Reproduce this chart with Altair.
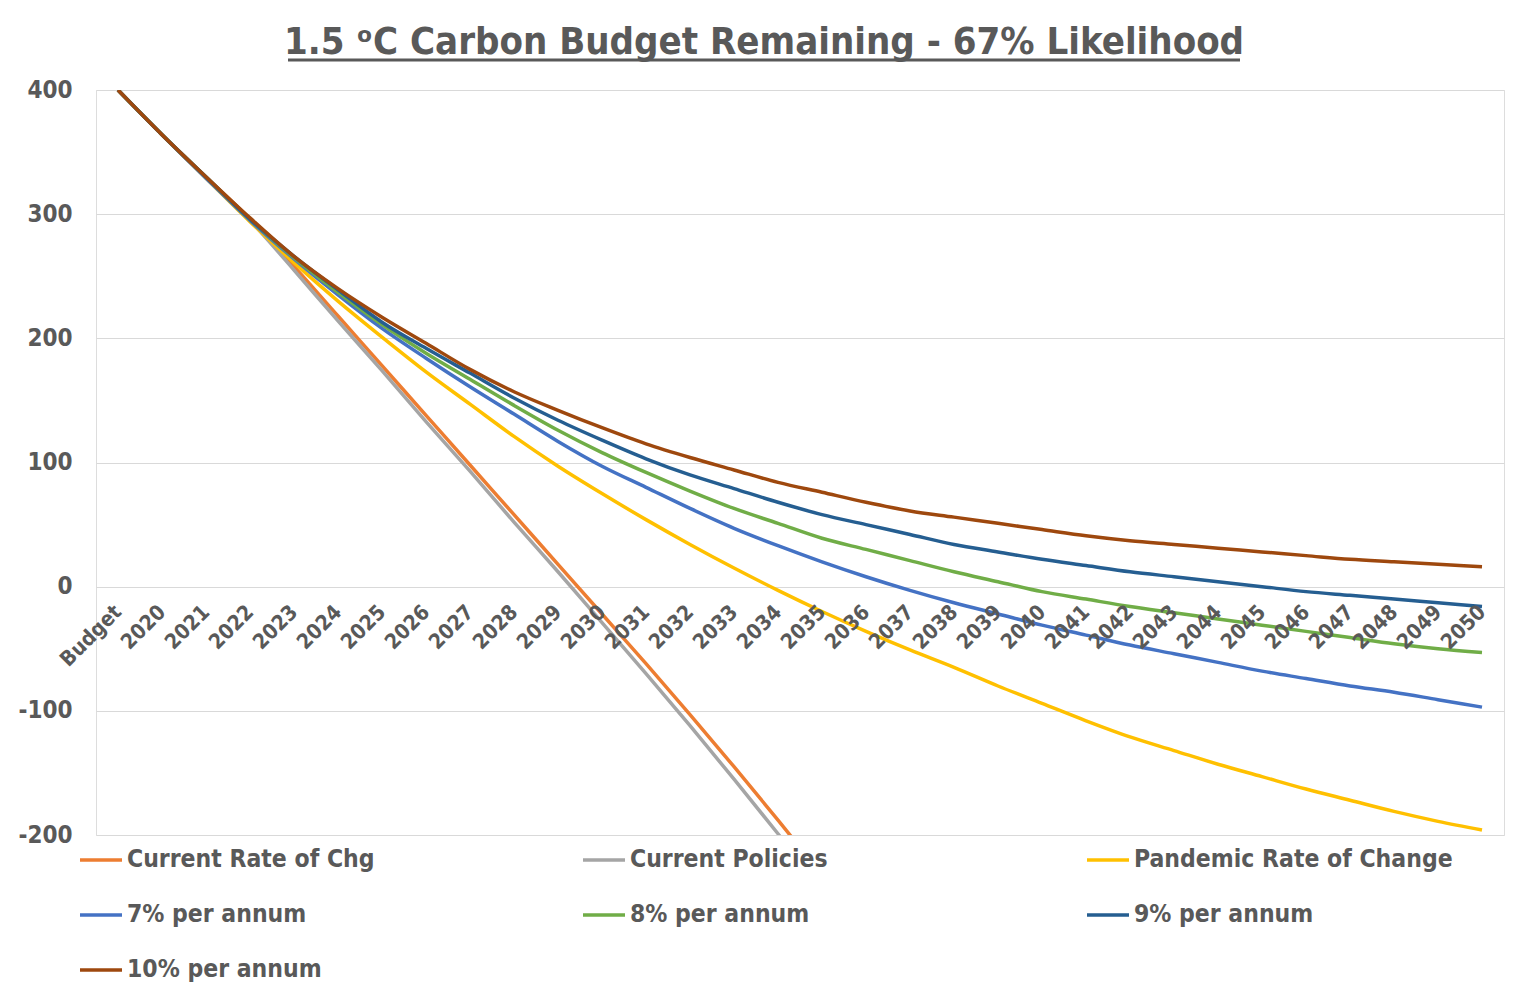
import altair as alt
import pandas as pd

categories = ["Budget", "2020", "2021", "2022", "2023", "2024", "2025", "2026", "2027",
              "2028", "2029", "2030", "2031", "2032", "2033", "2034", "2035", "2036",
              "2037", "2038", "2039", "2040", "2041", "2042", "2043", "2044", "2045",
              "2046", "2047", "2048", "2049", "2050"]

series_names = ["Current Rate of Chg", "Current Policies", "Pandemic Rate of Change",
                "7% per annum", "8% per annum", "9% per annum", "10% per annum"]
series_colors = ["#ED7D31", "#A5A5A5", "#FFC000", "#4472C4", "#70AD47", "#255E91", "#9E480E"]

# legend columns as laid out in the reference
legend_columns = [["Current Rate of Chg", "7% per annum", "10% per annum"],
                  ["Current Policies", "8% per annum"],
                  ["Pandemic Rate of Change", "9% per annum"]]

title_text = ["1.5 ᵒC Carbon Budget Remaining - 67% Likelihood"]

current_rate = [400, 364, 330, 296, 258, 218, 178, 138, 98, 58, 18, -22, -62, -103, -145,
                -188, -232]
current_policies = [400, 364, 330, 295, 255, 214, 174, 133, 93, 52, 12, -29, -70, -112,
                    -155, -199, -244]
pandemic = [400, 364, 329, 294, 261, 230, 201, 173, 147, 121, 97, 75, 54, 34, 15, -3, -20,
            -36, -51, -65, -80, -94, -108, -121, -132, -143, -153, -163, -172, -181, -189, -196]
pa7 = [400, 364, 329, 295, 264, 235, 208, 184, 161, 139, 117, 97, 80, 63, 47, 33, 20, 8,
       -3, -13, -22, -31, -39, -47, -54, -61, -68, -74, -80, -85, -91, -97]
pa8 = [400, 364, 330, 296, 265, 237, 211, 188, 167, 146, 126, 108, 92, 77, 63, 51, 39, 30,
       21, 12, 4, -4, -10, -16, -21, -26, -31, -36, -41, -46, -50, -53]
pa9 = [400, 364, 330, 296, 266, 239, 213, 192, 172, 152, 134, 118, 103, 90, 79, 68, 58, 50,
       42, 34, 28, 22, 17, 12, 8, 4, 0, -4, -7, -10, -13, -16]
pa10 = [400, 364, 330, 297, 266, 240, 217, 196, 175, 157, 142, 128, 115, 104, 94, 84, 76,
        68, 61, 56, 51, 46, 41, 37, 34, 31, 28, 25, 22, 20, 18, 16]

all_series = [current_rate, current_policies, pandemic, pa7, pa8, pa9, pa10]

rows = []
for name, vals in zip(series_names, all_series):
    for cat, v in zip(categories, vals):
        rows.append({"cat": cat, "series": name, "value": v})
df = pd.DataFrame(rows)
color_of = dict(zip(series_names, series_colors))

FONT = "DejaVu Sans Condensed, DejaVu Sans"
GREY = "#595959"
W, H = 1408, 745
LW = 3.5

x_enc = alt.X("cat:N", sort=categories, scale=alt.Scale(padding=0.5),
              axis=alt.Axis(title=None, labelAngle=315, labelAlign="right",
                            labelBaseline="middle", labelPadding=22, offset=-H / 3,
                            domain=False, ticks=False, grid=False, zindex=1,
                            labelFont=FONT, labelFontSize=21, labelFontWeight="bold",
                            labelColor=GREY, labelOverlap=False))
y_enc = alt.Y("value:Q", scale=alt.Scale(domain=[-200, 400], nice=False, zero=False),
              axis=alt.Axis(title=None, values=[-200, -100, 0, 100, 200, 300, 400],
                            labelExpr="'' + datum.value",
                            grid=True, gridColor="#D9D9D9", gridWidth=1, domain=False,
                            ticks=False, labelPadding=24, labelFont=FONT, labelFontSize=24,
                            labelFontWeight="bold", labelColor=GREY))

lines = alt.Chart(df).mark_line(strokeWidth=LW, clip=True, interpolate="monotone").encode(
    x=x_enc, y=y_enc,
    color=alt.Color("series:N", sort=series_names,
                    scale=alt.Scale(domain=series_names, range=series_colors),
                    legend=None),
)

legend_x = [-18, 485, 989]
legend_layers = []
for col, lx in zip(legend_columns, legend_x):
    legend_layers.append(
        alt.Chart(df).transform_filter(alt.FieldOneOfPredicate(field="series", oneOf=col))
        .mark_line(strokeWidth=LW, opacity=0, clip=True)
        .encode(
            x=x_enc, y=y_enc,
            color=alt.Color("series:N", sort=col,
                            scale=alt.Scale(domain=col, range=[color_of[c] for c in col]),
                            legend=alt.Legend(title=None, orient="none", legendX=lx,
                                              legendY=747, direction="vertical",
                                              symbolType="stroke", symbolStrokeWidth=LW,
                                              symbolSize=1764, symbolOpacity=1,
                                              labelFont=FONT, labelFontSize=24.5,
                                              labelFontWeight="bold", labelColor=GREY,
                                              labelOffset=3, rowPadding=20,
                                              labelLimit=600)),
        )
    )

title_layer = alt.Chart(alt.Data(values=[{"t": t} for t in title_text])).mark_text(
    font=FONT, fontSize=38, fontWeight="bold", color=GREY, align="center",
    baseline="alphabetic", clip=False
).encode(x=alt.value(668), y=alt.value(-36), text="t:N")

underline = alt.Chart(alt.Data(values=[{"u": 1}])).mark_rule(
    color=GREY, strokeWidth=3, clip=False
).encode(x=alt.value(192), x2=alt.value(1144), y=alt.value(-30))

chart = alt.layer(lines, *legend_layers, title_layer, underline).resolve_scale(
    color="independent"
).properties(
    width=W, height=H,
    autosize=alt.AutoSizeParams(type="none"),
    padding={"left": 88, "top": 82, "right": 16, "bottom": 150},
).configure_view(stroke=None).configure(background="white")

chart.save("out.html", embed_options={"renderer": "svg", "actions": False})
